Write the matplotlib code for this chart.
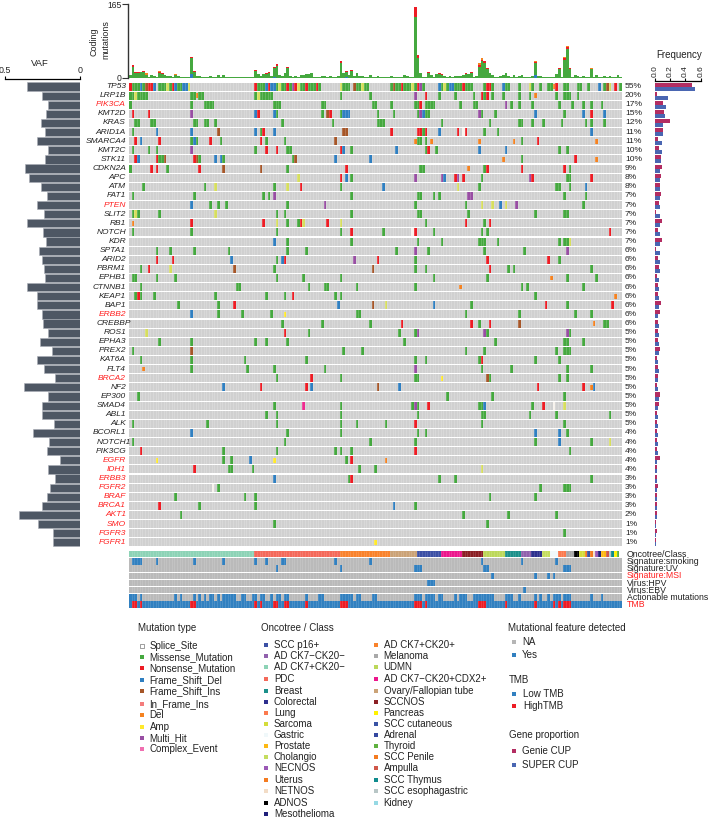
import numpy as np
import matplotlib
matplotlib.use('Agg')
import matplotlib.pyplot as plt

plt.rcParams['font.family'] = ['Liberation Sans', 'DejaVu Sans']

W, H = 709, 818
n_samples = 185

genes = ['TP53', 'LRP1B', 'PIK3CA', 'KMT2D', 'KRAS', 'ARID1A', 'SMARCA4', 'KMT2C', 'STK11', 'CDKN2A',
         'APC', 'ATM', 'FAT1', 'PTEN', 'SLIT2', 'RB1', 'NOTCH', 'KDR', 'SPTA1', 'ARID2',
         'PBRM1', 'EPHB1', 'CTNNB1', 'KEAP1', 'BAP1', 'ERBB2', 'CREBBP', 'ROS1', 'EPHA3', 'PREX2',
         'KAT6A', 'FLT4', 'BRCA2', 'NF2', 'EP300', 'SMAD4', 'ABL1', 'ALK', 'BCORL1', 'NOTCH1',
         'PIK3CG', 'EGFR', 'IDH1', 'ERBB3', 'FGFR2', 'BRAF', 'BRCA1', 'AKT1', 'SMO', 'FGFR3', 'FGFR1']
red_genes = ['PIK3CA', 'PTEN', 'ERBB2', 'BRCA2', 'EGFR', 'IDH1', 'ERBB3', 'FGFR2', 'BRAF', 'BRCA1',
             'AKT1', 'SMO', 'FGFR3', 'FGFR1']
percent = [55, 20, 17, 15, 12, 11, 11, 10, 10, 9, 8, 8, 7, 7, 7, 7, 7, 7, 6, 6, 6, 6, 6, 6, 6, 6, 6,
           5, 5, 5, 5, 5, 5, 5, 5, 5, 5, 5, 4, 4, 4, 4, 4, 3, 3, 3, 3, 2, 1, 1, 1]
vaf = [.351, .251, .211, .229, .262, .231, .289, .211, .235, .367, .338, .258, .22, .287, .24, .353, .247,
       .227, .273, .253, .24, .233, .353, .287, .287, .253, .247, .213, .267, .187, .287, .24, .167, .373,
       .213, .253, .253, .173, .313, .207, .22, .133, .213, .167, .2, .22, .253, .407, .28, .18, .18]
freq_genie = [.49, .02, .11, .115, .20, .10, .04, .055, .08, .09, .085, .07, .085, .05, .01, .09, .045,
              .09, .015, .045, .05, .025, .04, .045, .075, .065, .04, .04, .035, .06, .03, .04, .04,
              .03, .06, .05, .02, .03, .02, .03, .02, .06, .03, .02, .04, .03, .03, .02, .01, .02, .01]
freq_super = [.52, .17, .15, .135, .11, .10, .09, .09, .08, .065, .065, .07, .07, .07, .07, .065, .065,
              .065, .06, .06, .07, .055, .055, .055, .055, .04, .05, .05, .05, .05, .045, .05, .045,
              .04, .05, .04, .04, .035, .04, .04, .04, .03, .03, .03, .025, .025, .025, .02, .01, .01, .01]

# mutation calls per gene: column number + type letter
# m missense, n nonsense, f fs del, b fs ins, y in-frame, o del, a amp, p multi hit, c complex, s splice
hits = {}
hits['TP53'] = ("0n 1m 2m 3m 4f 5m 6b 7n 8n 9f 11m 12m 13m 14y 15m 16n 17f 18m 19m 20f 21f 22y "
                "47n 48m 49m 50m 51f 52n 53f 54f 55m 56y 57m 58m 59n 60m 61p 62n 63y 64m 65m 66n 67m 68m 69m 70n 71m "
                "79y 80m 81m 82m 84b 85m 86m 87y 88m 89m 98m 99b 100m 101m 102n 103m 104m 105m 106y 107m 108n 109p "
                "110m 116f 117m 118y 119m 120f 121f 122m 123m 124m 125n 126m 127m 128m 133m 134n 135n 136m 140f "
                "141m 142m 146m 150y 151m 154m 157m 158m 159o 160n 163m 164m 168m 169m 172m 176f 178m 179b 180y "
                "182n 184m")
hits['LRP1B'] = ("0m 1m 2y 3m 4m 5m 6m 23m 24m 25o 26m 27m 47m 48y 49m 50m 51m 52m 53m 79m 90m 107p 111n 116m "
                 "122m 129m 132n 133m 134n 136m 140m 146m 150m 152o 160m 163m 164m 165m 168m")
hits['PIK3CA'] = ("0m 23m 28m 29m 30m 31m 54m 55m 56m 72m 73m 91m 92m 98m 107m 108m 109n 111m 112m 113m 114m "
                  "124m 129m 130m 141p 143m 146m 151m 161m 166m 170m 173m 177m")
hits['KMT2D'] = ("1n 7n 23p 47f 48n 54f 55m 72m 74b 75n 79m 80f 81f 82f 93m 99m 108m 109p 110f 111m 112m "
                 "131p 132m 137m 152f 163m 170f 173n 178f")
hits['KRAS'] = "2m 3m 8m 9m 24m 25m 28m 29m 32m 57m 76m 93m 94m 95m 117m 135m 146m 147m 151m 155m 162m 171m 173m 178m"
hits['ARID1A'] = ("1m 10f 23f 33b 47f 49m 50n 54f 80b 81b 98n 108n 109n 110m 111n 116f 123n 125s 126n 133m 138m 173f")
hits['SMARCA4'] = ("2n 4f 11n 23m 24f 25m 30n 34m 49n 51m 58m 77b 107o 108m 109m 111m 113o 131o 144o 147m 153n 175o")
hits['KMT2C'] = "1m 7m 10m 23p 47m 51n 55n 59m 60m 79n 80f 83m 100f 111m 112n 115m 131f 141f 161m 164m"
hits['STK11'] = "2n 3f 10n 11m 12m 13b 24n 25b 26m 32f 34f 35m 61m 62b 77f 90f 140o 147m 167n 175o"
hits['CDKN2A'] = "0m 8n 10n 14m 26n 35b 49b 59m 81n 109m 110m 127o 133m 134n 147n 163n 165m"
hits['APC'] = "63y 79n 81f 83m 107p 117p 118f 122n 123p 125n 132m 150p 151n 164m 165m 173n"
hits['ATM'] = "5m 28m 32y 54m 59y 64n 79m 95f 123y 131m 160m 161m 165m 171f"
hits['FAT1'] = "1m 24m 50m 52m 54p 83m 108m 109m 114m 116m 127p 128p 163m 171m"
hits['PTEN'] = "23f 30m 33m 36m 59m 73p 107m 126m 132y 136y 139f 141y 145p 170m"
hits['SLIT2'] = "1m 2y 3m 11m 32y 55m 58m 83m 108m 109m 127m 152m 163m 164m"
hits['RB1'] = "1o 23n 50n 55y 59m 63m 64n 65y 74n 79y 111m 126n 133m 135n"
hits['NOTCH'] = "1m 23m 55m 79m 83n 95m 106s 107n 114m 132m 134m 180n"
hits['KDR'] = "54f 59m 83m 108m 117m 131m 132m 133m 138m 161m 163m 164m 165y"
hits['SPTA1'] = "10m 15m 24m 37m 59m 66m 100m 107p 112m 133m 148m 164p"
hits['ARID2'] = "10n 16n 38f 55m 57f 58n 84p 93n 107m 134n 157n 161m"
hits['PBRM1'] = "4m 7n 15y 39b 54m 91b 107m 111m 135n 142m 144m 173m"
hits['EPHB1'] = "1m 2m 10m 17m 55m 65m 79m 114m 134m 158o 164m 175m"
hits['CTNNB1'] = "4m 40m 41m 67m 73m 74m 85m 107m 124o 147m 149m 170m"
hits['KEAP1'] = "2m 3n 4m 9m 32m 51m 58m 61n 77m 79m 152m 182o"
hits['BAP1'] = "18m 33m 39n 78f 91b 96y 114f 128m 156n 164m 181n"
hits['ERBB2'] = "23f 33m 42m 53m 58a 85m 86m 126m 146m 167m 173m"
hits['CREBBP'] = "57m 72m 90m 102n 128n 131m 135n 146b 174o 178m 179m"
hits['ROS1'] = "6y 58n 67m 101m 107m 108p 133p 134m 164p 165m"
hits['EPHA3'] = "11m 23m 47m 51m 59m 103m 137m 163m 164m 170m"
hits['PREX2'] = "1m 23b 80m 87m 126m 133m 160m 163m 164m 165m"
hits['KAT6A'] = "4m 23m 43m 66m 107m 111m 131m 132n 152m 161m"
hits['FLT4'] = "5o 23m 44m 54m 73m 107p 132m 143m 164m 173m"
hits['BRCA2'] = "55m 68n 79m 107m 108m 117a 134b 135m 161m 164m"
hits['NF2'] = "35f 49n 66n 68f 93b 101f 153n 170n 173o 174f"
hits['EP300'] = "3m 119m 136m 163m"
hits['SMAD4'] = "54m 65c 79m 106m 107p 108m 112n 131m 132m 133f 151m 155n 159s 163y"
hits['ABL1'] = "51m 55m 79m 108m 132m 133m 150m 160m 180m"
hits['ALK'] = "1m 29m 55m 79m 85m 96m 107n 132m 163m"
hits['BCORL1'] = "23f 59m 79m 108m 111m 152f 161f 164m"
hits['NOTCH1'] = "1m 58m 90m 107m 152m 161f 173m 180y"
hits['PIK3CG'] = "4n 35m 55m 77m 79m 83m 107n 165m"
hits['EGFR'] = "10a 35m 38m 45f 54a 81m 83n 96o"
hits['IDH1'] = "24n 37m 38m 46m 86m 92m 132y"
hits['ERBB3'] = "54f 82m 83n 116m 122m 173m"
hits['FGFR2'] = "31s 33m 154m 163m 164m 165m"
hits['BRAF'] = "17m 43m 47m 135m 152m"
hits['BRCA1'] = "11n 26m 47m 99f 107m"
hits['AKT1'] = "19m 125m 142m 160m"
hits['SMO'] = "54m 134m"
hits['FGFR3'] = "163m"
hits['FGFR1'] = "92a"

# coding mutations per sample
tmb_total = [5, 28, 13, 12, 12, 14, 9, 2, 5, 3, 2, 14, 10, 5, 3, 4, 1, 7, 3, 2, 1, 2, 2, 46, 14, 4, 3, 2, 2, 2, 3, 2,
             1, 6, 2, 6, 1, 2, 1, 2, 2, 1, 1, 2, 1, 1, 1, 17, 7, 4, 8, 9, 13, 3, 24, 31, 6, 3, 10, 23, 3, 2, 3, 2,
             5, 6, 7, 8, 9, 2, 2, 2, 3, 3, 2, 4, 2, 2, 3, 37, 10, 14, 6, 16, 4, 9, 4, 3, 2, 1, 5, 2, 2, 3, 2, 2,
             2, 2, 4, 2, 2, 2, 2, 5, 3, 1, 2, 159, 50, 9, 2, 1, 12, 6, 2, 8, 11, 7, 4, 2, 3, 1, 3, 4, 4, 6, 9, 7,
             12, 2, 3, 32, 43, 37, 22, 11, 6, 2, 2, 3, 5, 10, 3, 2, 6, 1, 3, 6, 1, 1, 2, 4, 37, 3, 3, 2, 1, 1, 2,
             2, 8, 21, 1, 45, 70, 21, 1, 5, 3, 1, 3, 2, 1, 22, 1, 5, 1, 2, 4, 2, 3, 1, 2, 5, 1]
tmb_nonsense = {1: 4, 2: 2, 3: 2, 5: 1, 11: 2, 12: 2, 17: 1, 23: 3, 24: 2, 47: 2, 50: 1, 51: 2, 52: 3, 54: 2, 55: 4,
                59: 2, 79: 3, 80: 1, 81: 1, 83: 2, 107: 24, 108: 7, 112: 2, 116: 2, 117: 1, 126: 2, 128: 2, 131: 4,
                132: 3, 133: 4, 134: 2, 141: 1, 152: 2, 161: 2, 163: 4, 164: 3, 165: 2, 173: 2}
tmb_del = {6: 3, 11: 1, 17: 1, 55: 1, 79: 1, 116: 1, 125: 1, 131: 4, 132: 3, 133: 1, 134: 1, 144: 1, 147: 1, 152: 2,
           163: 1, 164: 2, 173: 2}
tmb_fs = {23: 8, 54: 1, 81: 2, 152: 5}

# annotation tracks
onco_order = ['AD CK7+CK20\u2212', 'PDC', 'AD CK7+CK20+', 'Ovary/Fallopian tube', 'SCC p16+',
              'AD CK7\u2212CK20+CDX2+', 'SCCNOS', 'UDMN', 'Breast', 'AD CK7\u2212CK20\u2212', 'Colorectal', 'Cholangio',
              'Gastric', 'Lung', 'Melanoma', 'ADNOS', 'Sarcoma', 'Uterus', 'SCC cutaneous', 'SCC Penile', 'NETNOS',
              'NECNOS', 'Mesothelioma', 'Prostate', 'Ampulla', 'SCC esophagastric', 'SCC Thymus', 'Pancreas', 'Thyroid']
onco_count = [47, 32, 19, 10, 9, 8, 8, 8, 6, 4, 4, 3, 3, 3, 3, 2, 2, 1, 1, 1, 1, 1, 1, 2, 1, 1, 1, 1, 1]
smoking_yes = [1, 2, 3, 4, 10, 24, 35, 47, 51, 57, 58, 77, 90, 132, 147, 160]
uv_yes = [55, 79, 107, 108, 109, 133, 134, 163, 164, 165]
msi_yes = [136, 152, 157, 159]
hpv_yes = [112, 113, 114]
ebv_yes = [148]
action_yes = [0, 1, 2, 4, 17, 19, 24, 26, 28, 30, 31, 33, 35, 36, 37, 38, 39, 42, 43, 46, 47, 49, 50, 53, 55, 56, 58, 59,
              66, 71, 72, 79, 80, 81, 82, 83, 85, 86, 91, 92, 107, 108, 109, 111, 112, 113, 114, 116, 117, 122, 124,
              125, 126, 129, 130, 131, 132, 133, 134, 135, 136, 141, 142, 143, 146, 152, 154, 157, 159, 160, 161,
              163, 164, 165, 173, 177]
tmb_high = [1, 2, 4, 23, 24, 47, 49, 54, 55, 58, 59, 66, 79, 80, 81, 107, 108, 109, 111, 131, 132, 133, 141, 152, 159,
            161, 163, 164, 165]
track_names = ['Oncotree/Class', 'Signature:smoking', 'Signature:UV', 'Signature:MSI', 'Virus:HPV', 'Virus:EBV',
               'Actionable mutations', 'TMB']

mut_types = ['Splice_Site', 'Missense_Mutation', 'Nonsense_Mutation', 'Frame_Shift_Del', 'Frame_Shift_Ins',
             'In_Frame_Ins', 'Del', 'Amp', 'Multi_Hit', 'Complex_Event']
onco_col1 = ['SCC p16+', 'AD CK7\u2212CK20\u2212', 'AD CK7+CK20\u2212', 'PDC', 'Breast', 'Colorectal', 'Lung', 'Sarcoma',
             'Gastric', 'Prostate', 'Cholangio', 'NECNOS', 'Uterus', 'NETNOS', 'ADNOS', 'Mesothelioma']
onco_col2 = ['AD CK7+CK20+', 'Melanoma', 'UDMN', 'AD CK7\u2212CK20+CDX2+', 'Ovary/Fallopian tube', 'SCCNOS', 'Pancreas',
             'SCC cutaneous', 'Adrenal', 'Thyroid', 'SCC Penile', 'Ampulla', 'SCC Thymus', 'SCC esophagastric', 'Kidney']

# colours
mut_col = {'m': '#45a83f', 'n': '#ed1c24', 'f': '#2f7fc1', 'b': '#a65628', 'y': '#d6de5e', 'o': '#f58220',
           'a': '#ffe92b', 'p': '#984ea3', 'c': '#ee2a8f', 's': '#f7f2ec'}
mut_legend_col = ['#ffffff', '#45a83f', '#ed1c24', '#2f7fc1', '#a65628', '#f47c7c', '#f58220', '#ffe92b', '#984ea3',
                  '#f06fb0']
onco_col = {'SCC p16+': '#3c50a5', 'AD CK7\u2212CK20\u2212': '#9161ad', 'AD CK7+CK20\u2212': '#8dd3b6', 'PDC': '#f4695a',
            'Breast': '#1b908a', 'Colorectal': '#2d2f8e', 'Lung': '#fb7a4e', 'Sarcoma': '#d4dc3a', 'Gastric': '#f0f8fa',
            'Prostate': '#fdb813', 'Cholangio': '#c5dd5f', 'NECNOS': '#9b59b6', 'Uterus': '#f47b20', 'NETNOS': '#f2dcc6',
            'ADNOS': '#000000', 'Mesothelioma': '#1f1f7a', 'AD CK7+CK20+': '#f9822b', 'Melanoma': '#a9a9a9',
            'UDMN': '#bcd85a', 'AD CK7\u2212CK20+CDX2+': '#ec168c', 'Ovary/Fallopian tube': '#cba377', 'SCCNOS': '#8b1f24',
            'Pancreas': '#fff200', 'SCC cutaneous': '#3953a4', 'Adrenal': '#3548a0', 'Thyroid': '#5fb13f',
            'SCC Penile': '#f47b20', 'Ampulla': '#d0574a', 'SCC Thymus': '#0f8b8d', 'SCC esophagastric': '#b8c6c6',
            'Kidney': '#96d9e4'}
BG = '#d0d0d0'
TRACK_BG = '#bababa'
BLUE = '#3180c0'
RED = '#ed1c24'
GENIE = '#b32d62'
SUPER = '#4a66b2'
DARK = '#4e5764'
TXT = '#222222'


def ax_px(fig, left, top, right, bottom):
    # axes from pixel box, y measured from the top
    return fig.add_axes([left / W, 1 - bottom / H, (right - left) / W, (bottom - top) / H])


fig = plt.figure(figsize=(W / 100, H / 100), dpi=100)
px = 0.72  # one pixel in points

mat_l, mat_r = 129, 622
mat_t, mat_b = 82, 82 + 51 * 9.116
n_g = len(genes)

# main matrix
ax = ax_px(fig, mat_l, mat_t, mat_r, mat_b)
ax.barh(np.arange(n_g), n_samples, left=0, height=0.88, color=BG, linewidth=0)
for i, g in enumerate(genes):
    for tok in hits[g].split():
        c, kind = int(tok[:-1]), tok[-1]
        h = 0.5 if kind in 'oa' else 0.88
        ax.bar(c + 0.5, h, bottom=i - h / 2, width=1, color=mut_col[kind], linewidth=0)
ax.vlines(np.arange(1, n_samples), -0.5, n_g - 0.5, color='white', alpha=0.28, linewidth=0.45)
ax.set_xlim(0, n_samples)
ax.set_ylim(n_g - 0.5, -0.5)
ax.axis('off')

# coding mutations on top
top = ax_px(fig, mat_l, 4, mat_r, 77.5)
tot = np.array(tmb_total, float)
fs = np.array([tmb_fs.get(i, 0) for i in range(n_samples)], float)
non = np.array([tmb_nonsense.get(i, 0) for i in range(n_samples)], float)
dels = np.array([tmb_del.get(i, 0) for i in range(n_samples)], float)
mis = tot - fs - non - dels
xs = np.arange(n_samples) + 0.5
top.bar(xs, fs, width=1, color=mut_col['f'], linewidth=0)
top.bar(xs, mis, bottom=fs, width=1, color=mut_col['m'], linewidth=0)
top.bar(xs, non, bottom=fs + mis, width=1, color=mut_col['n'], linewidth=0)
top.bar(xs, dels, bottom=fs + mis + non, width=1, color=mut_col['o'], linewidth=0)
top.set_xlim(0, n_samples)
top.set_ylim(0, 165)
for s in ['top', 'right', 'bottom']:
    top.spines[s].set_visible(False)
top.spines['left'].set_color('#333333')
top.spines['left'].set_linewidth(1)
top.spines['left'].set_position(('outward', 1 * px))
top.set_xticks([])
top.set_yticks([0, 165])
top.tick_params(axis='y', labelsize=6.2, length=4, width=0.8, pad=0.5, color='#333333', labelcolor=TXT)
top.patch.set_alpha(0)

# VAF on the left
left = ax_px(fig, 5, mat_t, 80, mat_b)
left.barh(np.arange(n_g), vaf, height=0.9, color=DARK, edgecolor='#a8adb5', linewidth=0.4)
left.set_xlim(0.5, 0)
left.set_ylim(n_g - 0.5, -0.5)
for s in ['left', 'right', 'bottom']:
    left.spines[s].set_visible(False)
left.spines['top'].set_position(('outward', 3 * px))
left.spines['top'].set_linewidth(0.9)
left.xaxis.tick_top()
left.set_xticks([0.5, 0])
left.set_xticklabels(['0.5', '0'])
left.set_yticks([])
left.tick_params(axis='x', labelsize=6.4, length=2.5, width=0.8, pad=0.5, labelcolor=TXT)
left.patch.set_alpha(0)

# frequency on the right
right = ax_px(fig, 655, mat_t, 700.7, mat_b)
yy = np.arange(n_g)
right.barh(yy - 0.22, freq_genie, height=0.44, color=GENIE, linewidth=0)
right.barh(yy + 0.22, freq_super, height=0.44, color=SUPER, linewidth=0)
right.set_xlim(0, 0.6)
right.set_ylim(n_g - 0.5, -0.5)
for s in ['left', 'right', 'bottom']:
    right.spines[s].set_visible(False)
right.spines['top'].set_position(('outward', 1 * px))
right.spines['top'].set_linewidth(0.9)
right.xaxis.tick_top()
right.set_xticks([0, 0.2, 0.4, 0.6])
right.set_xticklabels(['0.0', '0.2', '0.4', '0.6'], rotation=90)
right.set_yticks([])
right.tick_params(axis='x', labelsize=6, length=2, width=0.8, pad=1, labelcolor=TXT)
right.patch.set_alpha(0)

# annotation tracks
trk = ax_px(fig, mat_l, 550.6, mat_r, 608.2)
trk.barh(np.arange(1, 7), n_samples, left=0, height=0.88, color=TRACK_BG, linewidth=0)
pos = 0
for name, cnt in zip(onco_order, onco_count):
    trk.barh(0, cnt, left=pos, height=0.88, color=onco_col[name], linewidth=0)
    pos += cnt
for row, yes in zip([1, 2, 3, 4, 5, 6], [smoking_yes, uv_yes, msi_yes, hpv_yes, ebv_yes, action_yes]):
    trk.bar(np.array(yes) + 0.5, 0.88, bottom=row - 0.44, width=1, color=BLUE, linewidth=0)
trk.barh(7, n_samples, left=0, height=0.88, color=BLUE, linewidth=0)
trk.bar(np.array(tmb_high) + 0.5, 0.88, bottom=7 - 0.44, width=1, color=RED, linewidth=0)
trk.vlines(np.arange(1, n_samples), -0.5, 7.5, color='white', alpha=0.2, linewidth=0.45)
trk.set_xlim(0, n_samples)
trk.set_ylim(7.5, -0.5)
trk.axis('off')

# overlay in pixel coordinates, for all the text and legends
ov = fig.add_axes([0, 0, 1, 1], zorder=10)
ov.set_xlim(0, W)
ov.set_ylim(H, 0)
ov.axis('off')
ov.patch.set_alpha(0)
row_y = 86.5 + 9.116 * np.arange(n_g)

clip = plt.Rectangle((0, 0), 127.5, H, transform=ov.transData)
for i, g in enumerate(genes):
    hx = {'CREBBP': 131, 'NOTCH1': 130.5}.get(g, 126)
    t = ov.text(hx, row_y[i], g, ha='right', va='center', fontsize=6, style='italic',
                color='#ff2020' if g in red_genes else TXT)
    t.set_clip_path(clip)
    ov.text(625, row_y[i], '%d%%' % percent[i], ha='left', va='center', fontsize=6.1, color=TXT)

for i, name in enumerate(track_names):
    ov.text(627, 554.3 + 7.2 * i, name, ha='left', va='center', fontsize=6.3,
            color='#ff2020' if name in ('Signature:MSI', 'TMB') else TXT)

ov.text(40, 64, 'VAF', ha='center', va='center', fontsize=6.8, color=TXT)
ov.text(94, 42, 'Coding', ha='center', va='center', rotation=90, fontsize=6.4, color=TXT)
ov.text(106, 40, 'mutations', ha='center', va='center', rotation=90, fontsize=6.4, color=TXT)
ov.text(679, 54.5, 'Frequency', ha='center', va='center', fontsize=7, color=TXT)


def legend_head(x, y, s):
    ov.text(x, y, s, ha='left', va='center', fontsize=7, color=TXT)


def legend_item(xs_, xt, y, s, col, edge='none'):
    ov.scatter([xs_], [y], marker='s', s=9, color=col, edgecolors=edge, linewidths=0.5)
    ov.text(xt, y, s, ha='left', va='center', fontsize=7, color=TXT)


legend_head(138, 628, 'Mutation type')
mut_y = [646, 657, 668.3, 679.7, 691, 704, 715.3, 726.7, 737.7, 749]
for s, c, y in zip(mut_types, mut_legend_col, mut_y):
    legend_item(142.3, 149.5, y, s, c, edge='#777777' if s == 'Splice_Site' else 'none')

legend_head(261.3, 628, 'Oncotree / Class')
onco_y = [645, 656, 667.3, 678.7, 690.7, 701.7, 713, 724, 735, 746, 757.3, 768.3, 780.3, 791.3, 802.7, 813.7]
for s, y in zip(onco_col1, onco_y):
    legend_item(265.7, 274, y, s, onco_col[s])
for s, y in zip(onco_col2, onco_y):
    legend_item(375.7, 383.7, y, s, onco_col[s])

legend_head(507.7, 628, 'Mutational feature detected')
legend_item(514.3, 522, 641.7, 'NA', '#b5b5b5')
legend_item(514.3, 522, 655, 'Yes', BLUE)
legend_head(508.7, 680.3, 'TMB')
legend_item(514.3, 523.3, 694, 'Low TMB', BLUE)
legend_item(514.3, 523.3, 705.7, 'HighTMB', RED)
legend_head(508.7, 735.3, 'Gene proportion')
legend_item(514.3, 522, 751.3, 'Genie CUP', GENIE)
legend_item(514.3, 522, 764.7, 'SUPER CUP', SUPER)

fig.savefig('out.png', dpi=100)
